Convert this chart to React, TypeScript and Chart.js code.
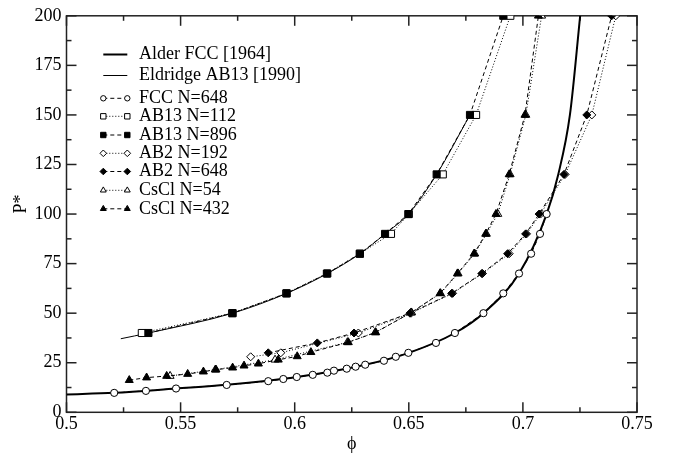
import React, { useEffect, useRef } from 'react';
import { Chart, registerables } from 'chart.js';

Chart.register(...registerables);

const FONT = "'Liberation Serif', 'Times New Roman', 'DejaVu Serif', serif";
const FS = 18;

// ---- axis ticks ----
const xMajorTicks = [0.5, 0.55, 0.6, 0.65, 0.7, 0.75];
const xMinorTicks = [0.525, 0.575, 0.625, 0.675, 0.725];
const yMajorTicks = [0, 25, 50, 75, 100, 125, 150, 175, 200];
const yMinorTicks = [12.5, 37.5, 62.5, 87.5, 112.5, 137.5, 162.5, 187.5];

// ---- Alder FCC [1964] curve ----
const alderPhi = [0.5, 0.5209, 0.548, 0.5702, 0.6009, 0.6309, 0.65, 0.6702, 0.6827, 0.6983, 0.7104, 0.7155, 0.7206, 0.7251];
const alderP = [9.0, 9.8, 12, 13.9, 17.8, 24, 30, 40, 50, 70, 100, 120, 150, 200];

// ---- Eldridge AB13 [1990] curve ----
const eldridgePhi = [0.5238, 0.5359, 0.5728, 0.5965, 0.6143, 0.6286, 0.6396, 0.6498, 0.6622, 0.6768];
const eldridgeP = [37.1, 40, 50, 60, 70, 80, 90, 100, 120, 150];

// ---- FCC N=648 ----
const fccPhi = [0.5209, 0.5348, 0.548, 0.5702, 0.5884, 0.595, 0.6009, 0.6079, 0.6143, 0.6172, 0.6228, 0.6267, 0.6309, 0.6391, 0.6443, 0.6498, 0.6619, 0.6702, 0.6827, 0.6914, 0.6983, 0.7036, 0.7075, 0.7104];
const fccP = [9.8, 10.8, 12, 13.8, 15.7, 16.8, 17.8, 18.9, 20, 21, 22, 23, 24, 26, 28, 30, 35, 40, 50, 60, 70, 80, 90, 100];

// ---- AB13 N=112 ----
const ab13sPhi = [0.533, 0.5726, 0.5963, 0.6141, 0.6285, 0.6422, 0.65, 0.6649, 0.6795, 0.6945];
const ab13sP = [40, 50, 60, 70, 80, 90, 100, 120, 150, 200];

// ---- AB13 N=896 ----
const ab13lPhi = [0.5359, 0.5728, 0.5965, 0.6143, 0.6286, 0.6396, 0.6498, 0.6622, 0.6768, 0.6914];
const ab13lP = [40, 50, 60, 70, 80, 90, 100, 120, 150, 200];

// ---- AB2 N=192 ----
const ab2sPhi = [0.5807, 0.5939, 0.6279, 0.651, 0.6692, 0.6823, 0.694, 0.7016, 0.7077, 0.7185, 0.7302, 0.7407];
const ab2sP = [28, 30, 40, 50, 60, 70, 80, 90, 100, 120, 150, 200];

// ---- AB2 N=648 ----
const ab2lPhi = [0.5884, 0.6099, 0.626, 0.6505, 0.6688, 0.682, 0.6933, 0.7012, 0.7071, 0.718, 0.728, 0.7389];
const ab2lP = [30, 35, 40, 50, 60, 70, 80, 90, 100, 120, 150, 200];

// ---- CsCl N=54 ----
const csclsPhi = [0.5454, 0.5652, 0.5914, 0.6231, 0.6353, 0.6512, 0.6639, 0.6716, 0.6789, 0.684, 0.689, 0.6944, 0.7013, 0.7082];
const csclsP = [18.3, 21.5, 26.5, 35.3, 40.3, 50.3, 60, 70, 80, 90, 100, 120, 150, 200];

// ---- CsCl N=432 ----
const cscllPhi = [0.5275, 0.5351, 0.5439, 0.5531, 0.56, 0.5655, 0.5728, 0.5778, 0.5841, 0.5928, 0.6011, 0.6071, 0.6235, 0.6355, 0.651, 0.6637, 0.6713, 0.6786, 0.6837, 0.6882, 0.694, 0.7009, 0.7068];
const cscllP = [16.2, 17.5, 18.3, 19.3, 20.5, 21.5, 22.5, 23.5, 24.5, 26.5, 28.2, 30.3, 35.3, 40.3, 50.3, 60, 70, 80, 90, 100, 120, 150, 200];

const legendLabels = [
  'Alder FCC [1964]',
  'Eldridge AB13 [1990]',
  'FCC N=648',
  'AB13 N=112',
  'AB13 N=896',
  'AB2 N=192',
  'AB2 N=648',
  'CsCl N=54',
  'CsCl N=432',
];

const pts = (xs: number[], ys: number[]) => xs.map((x, i) => ({ x, y: ys[i] }));

const DASHED = [4, 3];
const DOTTED = [1, 2];

type Mk = { style: string; fill: string; dash: number[] } | null;
const legendMarkers: Mk[] = [
  null,
  null,
  { style: 'circle', fill: '#fff', dash: DASHED },
  { style: 'rect', fill: '#fff', dash: DOTTED },
  { style: 'rect', fill: '#000', dash: DASHED },
  { style: 'rectRot', fill: '#fff', dash: DOTTED },
  { style: 'rectRot', fill: '#000', dash: DASHED },
  { style: 'triangle', fill: '#fff', dash: DOTTED },
  { style: 'triangle', fill: '#000', dash: DASHED },
];

function drawMarker(ctx: CanvasRenderingContext2D, style: string, x: number, y: number, fill: string) {
  ctx.beginPath();
  if (style === 'circle') {
    ctx.arc(x, y, 2.7, 0, Math.PI * 2);
  } else if (style === 'rect') {
    const s = 2.7;
    ctx.rect(x - s, y - s, 2 * s, 2 * s);
  } else if (style === 'rectRot') {
    const r = 3.3;
    ctx.moveTo(x - r, y);
    ctx.lineTo(x, y - r);
    ctx.lineTo(x + r, y);
    ctx.lineTo(x, y + r);
    ctx.closePath();
  } else {
    const r = 3.4;
    ctx.moveTo(x, y - r);
    ctx.lineTo(x + r * 0.866, y + r * 0.5);
    ctx.lineTo(x - r * 0.866, y + r * 0.5);
    ctx.closePath();
  }
  ctx.fillStyle = fill;
  ctx.fill();
  ctx.setLineDash([]);
  ctx.lineWidth = 1;
  ctx.strokeStyle = '#000';
  ctx.stroke();
}

const framePlugin = {
  id: 'frameTicks',
  beforeDatasetsDraw(chart: any) {
    const { ctx, chartArea, scales } = chart;
    const { left, right, top, bottom } = chartArea;
    const xs = scales.x;
    const ys = scales.y;
    ctx.save();
    ctx.strokeStyle = '#222';
    ctx.lineWidth = 1.5;
    ctx.setLineDash([]);
    ctx.strokeRect(left, top, right - left, bottom - top);
    const seg = (x1: number, y1: number, x2: number, y2: number) => {
      ctx.beginPath();
      ctx.moveTo(x1, y1);
      ctx.lineTo(x2, y2);
      ctx.stroke();
    };
    const doX = (vals: number[], len: number) => {
      vals.forEach((v) => {
        const p = xs.getPixelForValue(v);
        seg(p, bottom, p, bottom - len);
        seg(p, top, p, top + len);
      });
    };
    const doY = (vals: number[], len: number) => {
      vals.forEach((v) => {
        const p = ys.getPixelForValue(v);
        seg(left, p, left + len, p);
        seg(right, p, right - len, p);
      });
    };
    doX(xMajorTicks, 10);
    doX(xMinorTicks, 5);
    doY(yMajorTicks, 10);
    doY(yMinorTicks, 5);
    ctx.restore();
  },
  afterDraw(chart: any) {
    const { ctx, chartArea } = chart;
    ctx.save();
    ctx.fillStyle = '#000';
    ctx.font = `${FS}px ${FONT}`;
    // axis titles
    ctx.textAlign = 'center';
    ctx.textBaseline = 'alphabetic';
    ctx.fillText('\u03D5', (chartArea.left + chartArea.right) / 2, 449);
    ctx.save();
    ctx.translate(21.5, 204);
    ctx.rotate(-Math.PI / 2);
    ctx.textBaseline = 'middle';
    ctx.fillText('P*', 0, 0);
    ctx.restore();

    // legend
    const rows = [54.5, 75.5, 98.3, 116.3, 135, 153.3, 171.5, 190.3, 208.8];
    const x1 = 103.3;
    const x2 = 127.3;
    legendLabels.forEach((label, i) => {
      const y = rows[i];
      const mk = legendMarkers[i];
      ctx.beginPath();
      if (i === 0) {
        ctx.setLineDash([]);
        ctx.lineWidth = 2;
        ctx.strokeStyle = '#000';
      } else if (i === 1) {
        ctx.setLineDash([]);
        ctx.lineWidth = 1;
        ctx.strokeStyle = '#000';
      } else {
        ctx.setLineDash(mk!.dash);
        ctx.lineWidth = 1;
        ctx.strokeStyle = '#000';
      }
      ctx.moveTo(x1, y);
      ctx.lineTo(x2, y);
      ctx.stroke();
      if (mk) {
        drawMarker(ctx, mk.style, x1, y, mk.fill);
        drawMarker(ctx, mk.style, x2, y, mk.fill);
      }
      ctx.setLineDash([]);
      ctx.fillStyle = '#000';
      ctx.textAlign = 'left';
      ctx.textBaseline = 'middle';
      ctx.fillText(label, 139, y);
    });
    ctx.restore();
  },
};

export default function App() {
  const ref = useRef<HTMLCanvasElement | null>(null);

  useEffect(() => {
    if (!ref.current) return;
    const markerSet = (
      label: string,
      xs: number[],
      ys: number[],
      style: string,
      radius: number,
      fill: string,
      dash: number[],
      order: number
    ) => ({
      label,
      data: pts(xs, ys),
      showLine: true,
      borderColor: '#000',
      borderWidth: 1,
      borderDash: dash,
      pointStyle: style,
      pointRadius: radius,
      pointHoverRadius: radius,
      pointBackgroundColor: fill,
      pointBorderColor: '#000',
      pointBorderWidth: 1,
      tension: 0,
      order,
    });

    const chart = new Chart(ref.current, {
      type: 'scatter',
      data: {
        datasets: [
          {
            label: legendLabels[0],
            data: pts(alderPhi, alderP),
            showLine: true,
            borderColor: '#000',
            borderWidth: 2,
            pointRadius: 0,
            cubicInterpolationMode: 'monotone',
            order: 20,
          } as any,
          {
            label: legendLabels[1],
            data: pts(eldridgePhi, eldridgeP),
            showLine: true,
            borderColor: '#000',
            borderWidth: 1,
            pointRadius: 0,
            cubicInterpolationMode: 'monotone',
            order: 19,
          } as any,
          markerSet(legendLabels[2], fccPhi, fccP, 'circle', 3.6, '#fff', DASHED, 1),
          markerSet(legendLabels[3], ab13sPhi, ab13sP, 'rect', 5, '#fff', DOTTED, 3),
          markerSet(legendLabels[4], ab13lPhi, ab13lP, 'rect', 5, '#000', DASHED, 2),
          markerSet(legendLabels[5], ab2sPhi, ab2sP, 'rectRot', 4, '#fff', DOTTED, 5),
          markerSet(legendLabels[6], ab2lPhi, ab2lP, 'rectRot', 4, '#000', DASHED, 4),
          markerSet(legendLabels[7], csclsPhi, csclsP, 'triangle', 4.6, '#fff', DOTTED, 7),
          markerSet(legendLabels[8], cscllPhi, cscllP, 'triangle', 4.6, '#000', DASHED, 6),
        ],
      },
      options: {
        responsive: false,
        animation: false,
        devicePixelRatio: 1,
        layout: { padding: { top: 13.3, right: 36, left: 0, bottom: 0 } },
        plugins: {
          legend: { display: false },
          tooltip: { enabled: false },
        },
        scales: {
          x: {
            type: 'linear',
            min: 0.5,
            max: 0.75,
            afterFit: (s: any) => {
              s.height = 42.7;
            },
            grid: { display: false, drawTicks: false },
            border: { display: false },
            ticks: {
              stepSize: 0.05,
              padding: 1,
              color: '#000',
              maxRotation: 0,
              font: { family: FONT, size: FS },
              callback: (v: any) => String(Math.round(Number(v) * 100) / 100),
            },
          },
          y: {
            type: 'linear',
            min: 0,
            max: 200,
            afterFit: (s: any) => {
              s.width = 66.5;
            },
            grid: { display: false, drawTicks: false },
            border: { display: false },
            ticks: {
              stepSize: 25,
              padding: 5,
              color: '#000',
              font: { family: FONT, size: FS },
            },
          },
        },
      } as any,
      plugins: [framePlugin],
    });
    return () => chart.destroy();
  }, []);

  return (
    <div style={{ position: 'fixed', left: 0, top: 0, width: 673, height: 455, background: '#fff' }}>
      <canvas ref={ref} width={673} height={455} style={{ width: 673, height: 455, display: 'block' }} />
    </div>
  );
}
